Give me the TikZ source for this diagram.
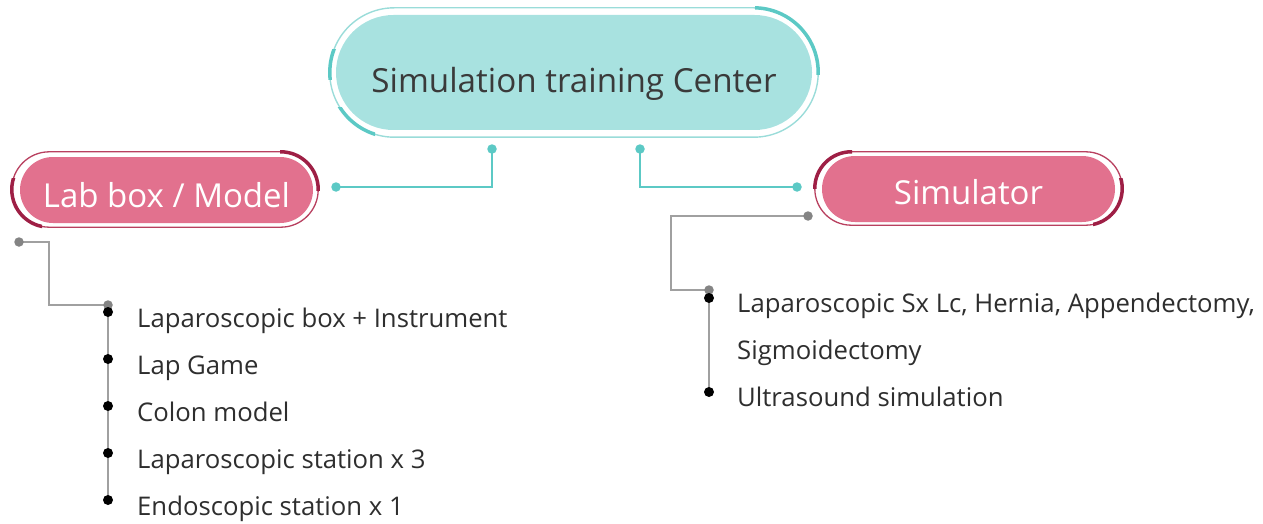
\documentclass[tikz,border=0pt]{standalone}
\usepackage{fontspec}
\setmainfont{Open Sans}
\usetikzlibrary{calc}
\definecolor{tealfill}{HTML}{A8E2E0}
\definecolor{tealline}{HTML}{5CC9C5}
\definecolor{tealthin}{HTML}{9ADCD9}
\definecolor{pinkfill}{HTML}{E2718E}
\definecolor{crimson}{HTML}{9E1F45}
\definecolor{pinkthin}{HTML}{B8405F}
\definecolor{greyline}{HTML}{A0A0A0}
\definecolor{greydot}{HTML}{848484}
\definecolor{inktext}{HTML}{3A3A3A}
\definecolor{listtext}{HTML}{2E2E2E}

% text whose baseline sits #1 below the centre of its pill
\newcommand\pilllabel[2]{\raisebox{-#1}[0pt][0pt]{#2}}

\begin{document}
\begin{tikzpicture}[x=1pt,y=-1pt,
  pillbox/.style={rectangle, rounded corners=#1, inner sep=0pt},
  tealdot/.style={circle, fill=tealline, minimum size=9.5pt, inner sep=0pt},
  greydotn/.style={circle, fill=greydot, minimum size=9.5pt, inner sep=0pt},
  bulletdot/.style={circle, fill=black, minimum size=10pt, inner sep=0pt},
  tealwire/.style={draw=tealline, line width=2pt},
  greywire/.style={draw=greyline, line width=1.6pt},
  itemtext/.style={anchor=base west, inner sep=0pt, text=listtext, font=\fontsize{25.7}{30}\selectfont},
  pilltext/.style={font=\fontsize{33}{40}\selectfont}]
\useasboundingbox (0,0) rectangle (1263,524);

% ---- central hub ----
\node[pillbox=57.5pt, fill=tealfill, minimum width=476pt, minimum height=115pt,
      text=inktext, font=\fontsize{33.2}{40}\selectfont] (hub) at (574,72.5)
      {\pilllabel{20.5pt}{Simulation training Center}};
\coordinate (hubA) at ($(hub.north west)+(-6,-7)$);
\coordinate (hubB) at ($(hub.south east)+(6,7)$);
\draw[tealthin, line width=1.4pt, rounded corners=64.5pt] (hubA) rectangle (hubB);
\begin{scope}
  \clip (755,0) rectangle (830,75);
  \draw[tealline, line width=3.5pt, rounded corners=64.5pt] (hubA) rectangle (hubB);
\end{scope}
\begin{scope}
  \clip (320,50) rectangle (345,80);
  \draw[tealline, line width=3.5pt, rounded corners=64.5pt] (hubA) rectangle (hubB);
\end{scope}
\begin{scope}
  \clip (320,108) rectangle (375,145);
  \draw[tealline, line width=3.5pt, rounded corners=64.5pt] (hubA) rectangle (hubB);
\end{scope}

% ---- left branch pill ----
\node[pillbox=33pt, fill=pinkfill, minimum width=293pt, minimum height=66pt,
      text=white, pilltext] (lab) at (166.5,190) {\pilllabel{17pt}{Lab box / Model}};
\coordinate (labA) at ($(lab.north west)+(-8,-5)$);
\coordinate (labB) at ($(lab.south east)+(5,4)$);
\draw[pinkthin, line width=1.3pt, rounded corners=37.5pt] (labA) rectangle (labB);
\begin{scope}
  \clip (280,140) rectangle (330,190);
  \draw[crimson, line width=3.5pt, rounded corners=37.5pt] (labA) rectangle (labB);
\end{scope}
\begin{scope}
  \clip (0,178) rectangle (42,240);
  \draw[crimson, line width=3.5pt, rounded corners=37.5pt] (labA) rectangle (labB);
\end{scope}

% ---- right branch pill ----
\node[pillbox=33pt, fill=pinkfill, minimum width=293pt, minimum height=66pt,
      text=white, pilltext] (sim) at (968.5,189) {\pilllabel{15pt}{Simulator}};
\coordinate (simA) at ($(sim.north west)+(-7,-4)$);
\coordinate (simB) at ($(sim.south east)+(7,3)$);
\draw[pinkthin, line width=1.3pt, rounded corners=36.5pt] (simA) rectangle (simB);
\begin{scope}
  \clip (800,140) rectangle (852,188);
  \draw[crimson, line width=3.5pt, rounded corners=36.5pt] (simA) rectangle (simB);
\end{scope}
\begin{scope}
  \clip (1093,178) rectangle (1135,240);
  \draw[crimson, line width=3.5pt, rounded corners=36.5pt] (simA) rectangle (simB);
\end{scope}

% ---- hub to branches ----
\node[tealdot] (hubL) at (492,149) {};
\node[tealdot] (hubR) at (640,149) {};
\node[tealdot] (labIn) at (336,187) {};
\node[tealdot] (simIn) at (797,187) {};
\draw[tealwire] (hubL.center) |- (labIn.center);
\draw[tealwire] (hubR.center) |- (simIn.center);

% ---- left list ----
\coordinate (labBend) at (49,305);
\coordinate (labList) at (108,305);
\coordinate (b5) at (108,500);
\draw[greywire] (19,242) -| (labBend) -- (labList) -- (b5);
\node[greydotn] (labOut) at (19,242) {};
\node[greydotn] (labListDot) at (labList) {};
\node[bulletdot] (b1) at (108,312) {};
\node[bulletdot] (b2) at (108,359) {};
\node[bulletdot] (b3) at (108,406) {};
\node[bulletdot] (b4) at (108,453) {};
\node[bulletdot] (b5dot) at (b5) {};
\node[itemtext] (t1) at (137,327) {Laparoscopic box + Instrument};
\node[itemtext] (t2) at (137,374) {Lap Game};
\node[itemtext] (t3) at (137,421) {Colon model};
\node[itemtext] (t4) at (137,468) {Laparoscopic station x 3};
\node[itemtext] (t5) at (137,515) {Endoscopic station x 1};

% ---- right list ----
\coordinate (simOutPt) at (808,216);
\coordinate (simBend) at (671,290);
\coordinate (simList) at (709,290);
\coordinate (r2) at (709,392);
\draw[greywire] (simOutPt) -| (simBend) -- (simList) -- (r2);
\node[greydotn] (simOut) at (simOutPt) {};
\node[greydotn] (simListDot) at (simList) {};
\node[bulletdot] (r1) at (709,298) {};
\node[bulletdot] (r2dot) at (r2) {};
\node[itemtext] (s1) at (737,312) {Laparoscopic Sx Lc, Hernia, Appendectomy,};
\node[itemtext] (s2) at (737,359) {Sigmoidectomy};
\node[itemtext] (s3) at (737,406) {Ultrasound simulation};
\end{tikzpicture}
\end{document}
